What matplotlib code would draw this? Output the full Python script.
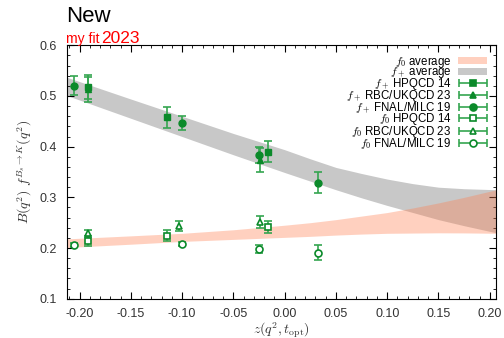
import numpy as np
import matplotlib
matplotlib.use("Agg")
import matplotlib.pyplot as plt
from matplotlib.legend_handler import HandlerErrorbar
from matplotlib.container import ErrorbarContainer

plt.rcParams['font.family'] = ['Liberation Sans', 'DejaVu Sans']
plt.rcParams['mathtext.fontset'] = 'cm'

# bands (fit results)
z_band = [-0.2125, -0.15, -0.10, -0.05, 0.0, 0.025, 0.05, 0.075, 0.10, 0.125, 0.15, 0.175, 0.2065]
fp_band_hi = [0.537, 0.494, 0.460, 0.426, 0.394, 0.376, 0.359, 0.347, 0.336, 0.327, 0.320, 0.317, 0.315]
fp_band_lo = [0.501, 0.456, 0.420, 0.384, 0.349, 0.332, 0.315, 0.299, 0.284, 0.270, 0.256, 0.244, 0.230]
f0_band_hi = [0.218, 0.224, 0.229, 0.236, 0.245, 0.250, 0.256, 0.263, 0.270, 0.279, 0.289, 0.300, 0.315]
f0_band_lo = [0.201, 0.2075, 0.213, 0.217, 0.221, 0.223, 0.2255, 0.2275, 0.229, 0.2295, 0.230, 0.2298, 0.229]

# f+ data
z_hpqcd = [-0.192, -0.115, -0.0163]
fp_hpqcd = [0.518, 0.458, 0.390]
fp_hpqcd_err = [0.023, 0.021, 0.0205]
z_rbc = [-0.192, -0.1026, -0.0236]
fp_rbc = [0.513, np.nan, 0.374]
fp_rbc_err = [0.025, np.nan, 0.0235]
z_fnal = [-0.205, -0.0997, -0.025, 0.033]
fp_fnal = [0.520, 0.447, 0.384, 0.329]
fp_fnal_err = [0.019, 0.014, 0.016, 0.021]

# f0 data
f0_hpqcd = [0.2145, 0.2245, 0.241]
f0_hpqcd_err = [0.010, 0.0115, 0.0115]
f0_rbc = [0.2295, 0.243, 0.252]
f0_rbc_err = [0.007, 0.010, 0.012]
f0_fnal = [0.206, 0.2075, 0.198, 0.191]
f0_fnal_err = [0.004, 0.004, 0.007, 0.0145]

labels = [r"$f_0$ average", r"$f_+$ average",
          r"$f_+$ HPQCD 14", r"$f_+$ RBC/UKQCD 23", r"$f_+$ FNAL/MILC 19",
          r"$f_0$ HPQCD 14", r"$f_0$ RBC/UKQCD 23", r"$f_0$ FNAL/MILC 19"]

green = '#0b8a2a'
egreen = '#35a550'

fig = plt.figure(figsize=(5.04, 3.38), dpi=100)
ax = fig.add_axes([0.1323, 0.1163, 0.8527, 0.7497])

b_fp = ax.fill_between(z_band, fp_band_lo, fp_band_hi, color='#c8c8c8', lw=0, zorder=1)
b_f0 = ax.fill_between(z_band, f0_band_lo, f0_band_hi, color='#ff7f50', alpha=0.36, lw=0, zorder=2)

kw = dict(color=green, ecolor=egreen, ms=5, capsize=3, elinewidth=1.2, capthick=1.2, ls='none', zorder=5)
ax.errorbar(z_hpqcd, fp_hpqcd, yerr=fp_hpqcd_err, fmt='s', **kw)
ax.errorbar(z_rbc, fp_rbc, yerr=fp_rbc_err, fmt='^', **kw)
ax.errorbar(z_fnal, fp_fnal, yerr=fp_fnal_err, fmt='o', **kw)
ax.errorbar(z_hpqcd, f0_hpqcd, yerr=f0_hpqcd_err, fmt='s', mfc='white', mew=1.2, **kw)
ax.errorbar(z_rbc, f0_rbc, yerr=f0_rbc_err, fmt='^', mfc='white', mew=1.2, **kw)
ax.errorbar(z_fnal, f0_fnal, yerr=f0_fnal_err, fmt='o', mfc='white', mew=1.2, **kw)

# legend proxies with horizontal bars
handles = [b_f0, b_fp]
for mk, fill in [('s', green), ('^', green), ('o', green),
                 ('s', 'white'), ('^', 'white'), ('o', 'white')]:
    h = ax.errorbar([np.nan], [np.nan], xerr=[1], fmt=mk, mfc=fill, mew=1.2,
                    color=green, ecolor=egreen, ms=5, capsize=3, elinewidth=1.2, capthick=1.2)
    handles.append(h)

ax.legend(handles, labels, loc='upper right', frameon=False, markerfirst=False,
          fontsize=8.3, labelspacing=-0.33, handlelength=2.5, handletextpad=0.6,
          borderaxespad=0.5, handleheight=0.6, borderpad=0.3,
          handler_map={ErrorbarContainer: HandlerErrorbar(xerr_size=1.2)})

ax.set_xlim(-0.2125, 0.2065)
ax.set_ylim(0.1, 0.6)
ax.set_xticks([-0.20, -0.15, -0.10, -0.05, 0.00, 0.05, 0.10, 0.15, 0.20])
ax.set_xticks(np.arange(-0.21, 0.2065, 0.01), minor=True)
ax.set_yticks([0.1, 0.2, 0.3, 0.4, 0.5, 0.6])
ax.set_yticks(np.arange(0.1, 0.6, 0.02), minor=True)
ax.set_xticklabels(["-0.20", "-0.15", "-0.10", "-0.05", "0.00", "0.05", "0.10", "0.15", "0.20"])
ax.tick_params(which='both', direction='in', top=True, right=True, labelsize=9,
               labelcolor='#333333', pad=7)
ax.tick_params(which='major', length=5)
ax.tick_params(which='minor', length=2.5)

ax.set_xlabel(r"$z(q^2, t_{\rm opt})$", fontsize=10, color='#333333', labelpad=0)
ax.set_ylabel(r"$B(q^2)\ f^{B_s\to K}(q^2)$", fontsize=10, color='#333333', labelpad=4)

fig.text(66 / 504, 1 - 22 / 338, "New", fontsize=16, ha='left', va='baseline')
fig.text(66 / 504, 1 - 43 / 338, "my fit", fontsize=10, color='red', ha='left', va='baseline')
fig.text(101 / 504, 1 - 43 / 338, "2023", fontsize=12.5, color='red', ha='left', va='baseline')

fig.savefig("out.png", dpi=100)
